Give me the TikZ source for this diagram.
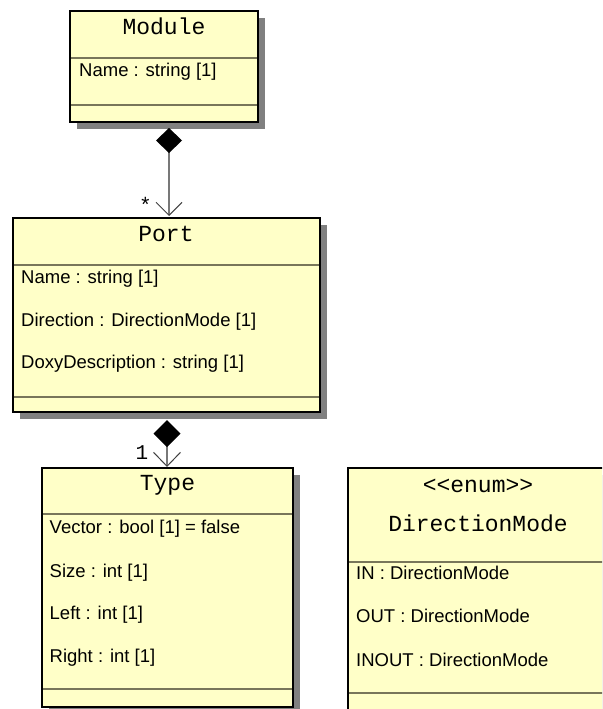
\documentclass[tikz,border=0pt]{standalone}
\usepackage{fontspec}
\setmainfont{Liberation Sans}
\newfontfamily\umlmono{Liberation Mono}
\usetikzlibrary{arrows.meta,shadows}

\definecolor{classfill}{RGB}{255,255,200}
\definecolor{sepline}{RGB}{120,118,90}
\definecolor{shadowgray}{RGB}{128,128,128}
\definecolor{linkgray}{RGB}{120,120,120}

\tikzset{
  classbox/.style={draw=black, line width=2pt, fill=classfill, rectangle,
    inner sep=0pt, outer sep=0pt, anchor=north west,
    drop shadow={shadow xshift=7pt, shadow yshift=-7pt, fill=shadowgray, opacity=1}},
  sepl/.style={draw=sepline, line width=1.4pt},
  title/.style={font=\umlmono\fontsize{23}{26}\selectfont, inner sep=0pt, anchor=base},
  attr/.style={font=\fontsize{18.5}{22}\selectfont, inner sep=0pt, anchor=base west},
  mult/.style={font=\umlmono\fontsize{21}{24}\selectfont, inner sep=0pt, anchor=north},
  compose/.style={draw=linkgray, line width=1.3pt},
}

\begin{document}
\begin{tikzpicture}[x=1pt,y=-1pt]
\useasboundingbox (0,0) rectangle (602,709);
\clip (0,0) rectangle (602,709);

% class boxes
\node[classbox, minimum width=188pt, minimum height=111pt] (mod) at (70,11) {};
\node[classbox, minimum width=307pt, minimum height=194pt] (port) at (13,218) {};
\node[classbox, minimum width=251pt, minimum height=239pt] (type) at (42,468) {};
\node[classbox, minimum width=260pt, minimum height=260pt] (dir) at (348,468) {};

% compartment separators
\foreach \bx/\off in {mod/47, mod/94, port/47, port/179, type/46, type/221, dir/94, dir/225}{
  \draw[sepl] ([xshift=1pt,yshift=-\off pt]\bx.north west) -- ([xshift=-1pt,yshift=-\off pt]\bx.north east);
}

% Module
\node[title] (modt) at (164,35) {Module};
\node[attr] (moda) at (79,76) {Name : string [1]};

% Port
\node[title] (portt) at (166,241) {Port};
\node[attr] (porta) at (21,283) {Name : string [1]};
\node[attr] (portb) at (21,326) {Direction : DirectionMode [1]};
\node[attr] (portc) at (21,368) {DoxyDescription : string [1]};

% Type
\node[title] (typet) at (167.5,490) {Type};
\node[attr] (typea) at (49.5,533) {Vector : bool [1] = false};
\node[attr] (typeb) at (49.5,577) {Size : int [1]};
\node[attr] (typec) at (49.5,619) {Left : int [1]};
\node[attr] (typed) at (49.5,662) {Right : int [1]};

% DirectionMode enumeration
\node[title] (dirs) at (478,492) {<{}<enum>{}>};
\node[title] (dirt) at (478,531) {DirectionMode};
\node[attr] (dira) at (356,579) {IN : DirectionMode};
\node[attr] (dirb) at (356,622) {OUT : DirectionMode};
\node[attr] (dirc) at (356,666) {INOUT : DirectionMode};

% compositions
\draw[compose, shorten <=6pt, shorten >=2pt,
  {Diamond[length=25pt,width=26pt,color=black,fill=black]}-{Straight Barb[length=13pt,width=26pt,color=black!75,line width=1pt]}]
  ([xshift=5pt]mod.south) -- ([xshift=2.5pt]port.north);
\node[mult] (m1) at (145.5,197) {*};

\draw[compose, shorten <=8pt, shorten >=1pt,
  {Diamond[length=27pt,width=27pt,color=black,fill=black]}-{Straight Barb[length=14pt,width=27pt,color=black!75,line width=1pt]}]
  ([xshift=0.5pt]port.south) -- ([xshift=-0.5pt]type.north);
\node[mult] (m2) at (142,445) {1};
\end{tikzpicture}
\end{document}
